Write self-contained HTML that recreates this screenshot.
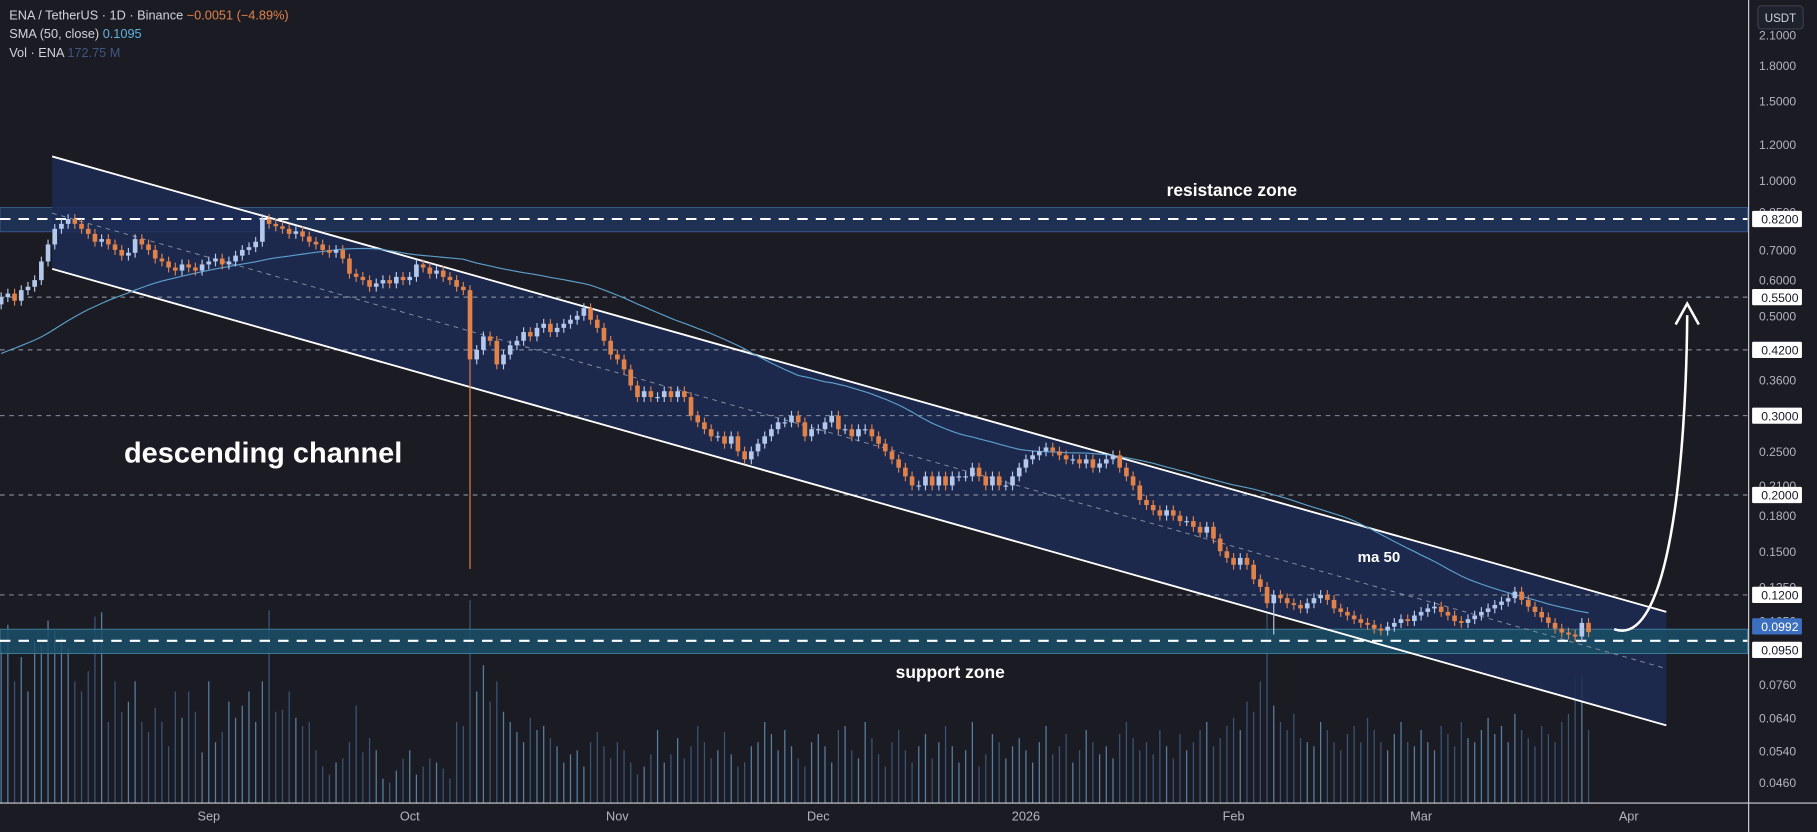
<!DOCTYPE html>
<html><head><meta charset="utf-8"><style>
html,body{margin:0;padding:0;background:#1b1b23;overflow:hidden}
svg{display:block;font-family:"Liberation Sans",sans-serif}
</style></head><body>
<svg id="chart" width="1817" height="832" viewBox="0 0 1568 718" preserveAspectRatio="none" xmlns="http://www.w3.org/2000/svg">
<rect x="0" y="0" width="1568" height="718" fill="#1b1b23"/>
<g id="vol"></g>
<rect x="0" y="179" width="1508" height="21" fill="#1f3152" stroke="#3c5a8a" stroke-width="0.8"/>
<polygon points="45,135 1438,528 1438,626 45,232" fill="#1c2c55" fill-opacity="0.85"/>
<rect x="0" y="543" width="1508" height="21" fill="#1a4f68" fill-opacity="0.85" stroke="#3f7f99" stroke-width="0.8"/>
<g id="grid"></g>
<line x1="45" y1="184" x2="1438" y2="577" stroke="#8a90a0" stroke-width="0.8" stroke-dasharray="4,4"/>
<line x1="45" y1="135" x2="1438" y2="528" stroke="#ffffff" stroke-width="1.6"/>
<line x1="45" y1="232" x2="1438" y2="626" stroke="#ffffff" stroke-width="1.6"/>
<line x1="0" y1="189" x2="1508" y2="189" stroke="#fff" stroke-width="1.8" stroke-dasharray="9,7"/>
<line x1="0" y1="553" x2="1508" y2="553" stroke="#fff" stroke-width="1.8" stroke-dasharray="9,7"/>
<path id="sma" fill="none" stroke="#5c9ecb" stroke-width="1"/>
<g id="candles"></g>
<path d="M1393,543 C1440,560 1455,400 1456,272" fill="none" stroke="#fff" stroke-width="2.2"/>
<path d="M1446,280 L1456,262 L1466,280" fill="none" stroke="#fff" stroke-width="2.2"/>
<text x="107" y="399" fill="#fff" font-size="25" font-weight="bold">descending channel</text>
<text x="1063" y="169" fill="#fff" font-size="15" font-weight="bold" text-anchor="middle">resistance zone</text>
<text x="1190" y="485" fill="#fff" font-size="13" font-weight="bold" text-anchor="middle">ma 50</text>
<text x="820" y="585" fill="#fff" font-size="15" font-weight="bold" text-anchor="middle">support zone</text>
<rect x="1509" y="0" width="59" height="718" fill="#1b1b23"/>
<line x1="1509" y1="0" x2="1509" y2="718" stroke="#cfd2da" stroke-width="1"/>
<line x1="0" y1="693" x2="1568" y2="693" stroke="#cfd2da" stroke-width="1"/>
<g id="yaxis"></g>
<g id="xaxis"></g>
<rect x="1517" y="5" width="39" height="20" rx="3" fill="#1e222d" stroke="#3a3e4a"/>
<text x="1536.5" y="19" fill="#d1d4dc" font-size="10" text-anchor="middle">USDT</text>
<g font-size="11">
<text x="8" y="17" fill="#d1d4dc">ENA / TetherUS · 1D · Binance <tspan fill="#e0824a">−0.0051 (−4.89%)</tspan></text>
<text x="8" y="33" fill="#d1d4dc">SMA (50, close) <tspan fill="#5fb4de">0.1095</tspan></text>
<text x="8" y="49" fill="#d1d4dc">Vol · ENA <tspan fill="#3f5683">172.75 M</tspan></text>
</g>
</svg>
<script>
const priorCloses=[0.27,0.27,0.28,0.28,0.29,0.29,0.28,0.29,0.30,0.30,0.31,0.30,0.31,0.32,0.32,0.33,0.32,0.33,0.34,0.34,0.35,0.35,0.36,0.36,0.37,0.38,0.39,0.40,0.41,0.42,0.43,0.44,0.45,0.47,0.48,0.50,0.52,0.54,0.56,0.58,0.60,0.62,0.61,0.59,0.58,0.57,0.56,0.55,0.55];
const closes=[
0.55,0.56,0.54,0.57,0.58,0.60,0.66,0.72,0.78,0.80,0.82,0.80,0.78,0.76,0.73,0.74,0.72,0.70,0.68,0.69,0.74,0.72,0.70,0.67,0.66,0.64,0.63,0.65,0.64,0.63,0.65,
0.66,0.67,0.65,0.66,0.68,0.70,0.71,0.73,0.82,0.80,0.79,0.78,0.76,0.77,0.75,0.73,0.72,0.70,0.69,0.70,0.67,0.62,0.61,0.60,0.58,0.59,0.60,0.59,0.61,0.60,
0.61,0.65,0.64,0.62,0.63,0.61,0.60,0.58,0.57,0.40,0.42,0.45,0.44,0.39,0.41,0.43,0.44,0.46,0.45,0.47,0.48,0.46,0.47,0.48,0.49,0.50,0.52,0.49,0.47,0.44,0.41,
0.40,0.38,0.35,0.33,0.34,0.33,0.33,0.34,0.33,0.34,0.33,0.30,0.29,0.28,0.27,0.27,0.26,0.27,0.25,0.24,0.25,0.26,0.27,0.28,0.29,0.29,0.30,0.29,0.27,0.28,
0.28,0.29,0.30,0.28,0.28,0.27,0.28,0.28,0.27,0.26,0.25,0.24,0.23,0.22,0.21,0.21,0.22,0.21,0.22,0.21,0.22,0.22,0.22,0.23,0.22,0.21,0.22,0.21,0.21,0.22,0.23,
0.24,0.245,0.25,0.255,0.25,0.245,0.24,0.24,0.235,0.24,0.23,0.235,0.24,0.245,0.23,0.22,0.21,0.195,0.19,0.185,0.18,0.185,0.18,0.175,0.175,0.17,0.165,0.17,0.16,0.15,0.145,
0.14,0.145,0.14,0.13,0.125,0.115,0.12,0.118,0.115,0.114,0.112,0.115,0.118,0.12,0.117,0.112,0.11,0.108,0.106,0.104,0.103,0.101,0.100,0.102,0.104,0.106,0.105,0.108,
0.11,0.112,0.113,0.11,0.108,0.105,0.104,0.106,0.108,0.11,0.112,0.114,0.116,0.118,0.122,0.117,0.113,0.11,0.107,0.104,0.101,0.099,0.098,0.097,0.104,0.0992];
const bigWickIndex=[70,190];
const bigWickLows=[0.137,0.098];
const volumes=[
75,88,60,72,55,80,78,90,85,82,76,60,55,65,92,94,40,60,45,50,60,40,35,47,40,28,55,42,55,45,25,
60,30,35,50,42,48,55,40,60,95,45,46,55,42,38,40,26,18,14,20,22,30,48,25,32,26,12,10,16,22,
26,14,18,22,20,17,12,40,38,100,55,68,50,60,45,40,35,30,42,36,38,32,28,20,24,26,18,30,35,28,22,
30,26,20,14,18,24,36,20,24,32,22,28,38,30,22,26,35,24,18,20,28,30,40,34,26,36,28,22,18,30,
34,28,20,36,38,26,22,40,32,24,18,30,36,26,20,28,34,22,30,38,28,20,26,40,18,24,34,30,22,28,32,
26,20,30,38,24,28,34,20,26,36,30,24,28,22,34,40,32,26,30,24,36,28,22,34,26,30,36,40,28,32,38,
42,36,50,45,60,95,48,40,36,44,32,30,28,40,36,30,26,34,38,30,42,36,30,26,34,40,30,28,
36,30,26,38,34,28,40,32,30,36,42,34,38,30,44,36,32,28,38,34,30,40,44,62,62,36];
const yTickValues=[2.1,1.8,1.5,1.2,1.0,0.85,0.7,0.6,0.5,0.36,0.25,0.21,0.18,0.15,0.125,0.105,0.076,0.064,0.054,0.046];
const yTickLabels=["2.1000","1.8000","1.5000","1.2000","1.0000","0.8500","0.7000","0.6000","0.5000","0.3600","0.2500","0.2100","0.1800","0.1500","0.1250","0.1050","0.0760","0.0640","0.0540","0.0460"];
const levelValues=[0.82,0.55,0.42,0.30,0.20,0.12,0.095];
const levelLabels=["0.8200","0.5500","0.4200","0.3000","0.2000","0.1200","0.0950"];
const lastPrice=0.0992, lastLabel="0.0992";
const monthLabels=["Sep","Oct","Nov","Dec","2026","Feb","Mar","Apr"];
const monthDayIndex=[31,61,92,122,153,184,212,243];

const NS="http://www.w3.org/2000/svg";
const K=168.8;
const yS=p=>189+K*(Math.log(0.82)-Math.log(p));
const xS=i=>i*5.78+1;
function mk(tag,attrs,parent){const e=document.createElementNS(NS,tag);for(const k in attrs)e.setAttribute(k,attrs[k]);parent.appendChild(e);return e;}

const cg=document.getElementById('candles');
for(let i=0;i<closes.length;i++){
  const o=i===0?0.53:closes[i-1], c=closes[i];
  const up=c>=o, col=up?'#b4c8ec':'#e0824a';
  const hi=Math.max(o,c)*1.025;
  let lo=Math.min(o,c)*0.975;
  const bw=bigWickIndex.indexOf(i); if(bw>=0) lo=bigWickLows[bw];
  const x=xS(i);
  const w=mk('line',{x1:x,x2:x,y1:yS(hi),y2:yS(lo),stroke:col,'stroke-width':1},cg);
  
  
  const y1=yS(Math.max(o,c)),y2=yS(Math.min(o,c));
  const b=mk('rect',{x:x-2,y:y1,width:4,height:Math.max(1,y2-y1),fill:col},cg);
  
  
}
const all=priorCloses.concat(closes);let d='';
for(let i=0;i<closes.length;i++){
  const s=all.slice(i,i+50);const m=s.reduce((a,b)=>a+b,0)/s.length;
  d+=(i?'L':'M')+xS(i).toFixed(1)+','+yS(m).toFixed(1);
}
document.getElementById('sma').setAttribute('d',d);

const vg=document.getElementById('vol');
for(let i=0;i<volumes.length&&i<closes.length;i++){
  const o=i===0?0.53:closes[i-1];const up=closes[i]>=o;
  const v=mk('line',{x1:xS(i),x2:xS(i),y1:693,y2:693-volumes[i]*1.75,stroke:up?'#5f8fb8':'#3d5f86','stroke-width':1.1,'stroke-opacity':0.85},vg);
  
  
}

const gg=document.getElementById('grid'), ya=document.getElementById('yaxis');
yTickValues.forEach((p,i)=>{
  const t=mk('text',{x:1550,y:yS(p)+4,fill:'#b2b5be','font-size':10.5,'text-anchor':'end'},ya);
  t.textContent=yTickLabels[i];
  
  
});
levelValues.forEach((p,i)=>{
  if(p!==0.82&&p!==0.095){
    const l=mk('line',{x1:0,x2:1508,y1:yS(p),y2:yS(p),stroke:'#9aa0ad','stroke-width':0.8,'stroke-dasharray':'4,4'},gg);
    
    
  }
  const yy=p===0.095?yS(p)+8:yS(p);
  const r=mk('rect',{x:1512,y:yy-7,width:43,height:14,fill:'#ffffff',rx:1},ya);
  
  
  const t=mk('text',{x:1552,y:yy+4,fill:'#131722','font-size':10.5,'text-anchor':'end'},ya);
  t.textContent=levelLabels[i];
  
  
});
const ly=yS(lastPrice)-5;
const lr=mk('rect',{x:1512,y:ly-7,width:43,height:14,fill:'#3d6fc0',rx:1},ya);


const lt=mk('text',{x:1552,y:ly+4,fill:'#ffffff','font-size':10.5,'text-anchor':'end'},ya);
lt.textContent=lastLabel;



const xa=document.getElementById('xaxis');
monthLabels.forEach((m,i)=>{
  const t=mk('text',{x:xS(monthDayIndex[i]),y:708,fill:'#b2b5be','font-size':11,'text-anchor':'middle'},xa);
  t.textContent=m;
  
  
});
</script>
</body></html>
